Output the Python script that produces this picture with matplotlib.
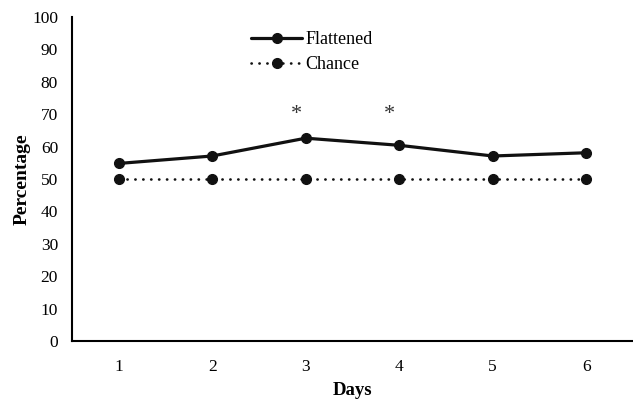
import matplotlib
matplotlib.use('Agg')
import matplotlib.pyplot as plt

days = [1, 2, 3, 4, 5, 6]
flattened = [54.8, 57.1, 62.6, 60.4, 57.1, 58.1]
chance = [50, 50, 50, 50, 50, 50]
starred_days = [3, 4]
star_level = 70

plt.rcParams['font.family'] = 'Liberation Serif'

fig = plt.figure(figsize=(6.33, 4.0), dpi=100)
ax = fig.add_axes([0.1137, 0.1475, 0.8863, 0.81])

ax.plot(days, flattened, color='#111111', lw=2.3, marker='o', ms=7,
        label='Flattened', solid_capstyle='round')
ax.plot(days, chance, color='#111111', lw=1.9, marker='o', ms=7,
        linestyle=(0, (0.1, 2.9)), dash_capstyle='round', label='Chance')

# significance marks
for d in starred_days:
    ax.text(d - 0.1, star_level, '*', ha='center', va='center',
            fontsize=16, color='#333333')

ax.set_xlim(0.5, 6.5)
ax.set_ylim(0, 100)
ax.set_xticks(days)
ax.set_yticks(range(0, 101, 10))
ax.tick_params(length=0, labelsize=12.5)
ax.tick_params(axis='x', pad=13)
ax.tick_params(axis='y', pad=10)
for s in ['top', 'right']:
    ax.spines[s].set_visible(False)
for s in ['left', 'bottom']:
    ax.spines[s].set_linewidth(1.5)

ax.set_xlabel('Days', fontsize=13.5, fontweight='bold', labelpad=5)
ax.set_ylabel('Percentage', fontsize=14, fontweight='bold', labelpad=1)

ax.legend(loc='upper left', bbox_to_anchor=(0.291, 1.007), frameon=False,
          fontsize=13, handlelength=2.8, handletextpad=0.2, labelspacing=0.45)

fig.savefig('out.png', dpi=100)
